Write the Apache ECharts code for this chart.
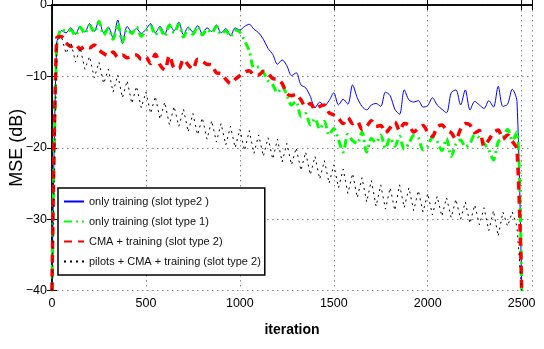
<!DOCTYPE html>
<html>
<head>
<meta charset="utf-8">
<script src="https://cdn.jsdelivr.net/npm/echarts@6/dist/echarts.min.js"></script>
<style>html,body{margin:0;padding:0;background:#fff}#c{width:544px;height:349px}</style>
</head>
<body>
<div id="c"></div>
<script>
var iterations = [0,25,50,75,100,125,150,175,200,225,250,275,300,325,350,375,400,425,450,475,
500,525,550,575,600,625,650,675,700,725,750,775,800,825,850,875,900,925,950,975,
1000,1025,1050,1075,1100,1125,1150,1175,1200,1225,1250,1275,1300,1325,1350,1375,1400,1425,1450,1475,
1500,1525,1550,1575,1600,1625,1650,1675,1700,1725,1750,1775,1800,1825,1850,1875,1900,1925,1950,1975,
2000,2025,2050,2075,2100,2125,2150,2175,2200,2225,2250,2275,2300,2325,2350,2375,2400,2425,2450,2475,2500];

var onlyTrainingType2 = [-40,-5.5,-3.6,-3.9,-3.2,-4.1,-3.0,-3.8,-2.6,-3.7,-2.2,-3.9,-3.1,-4.6,-2.1,-5.4,-3.0,-3.8,-3.3,-4.0,
-3.4,-2.6,-3.9,-3.0,-4.1,-2.7,-3.6,-2.4,-4.2,-3.1,-3.8,-2.9,-4.0,-3.2,-3.7,-2.8,-3.9,-3.3,-4.3,-3.2,
-3.5,-3.0,-2.7,-3.4,-3.9,-4.8,-6.1,-6.9,-8.3,-7.7,-8.5,-9.9,-9.5,-11.2,-11.6,-12.8,-14.4,-13.6,-14.1,-13.4,
-12.3,-14.0,-13.2,-13.9,-11.2,-13.0,-14.2,-14.7,-14.0,-13.8,-14.2,-12.2,-12.7,-14.6,-15.3,-11.9,-13.3,-13.6,-13.4,-14.3,
-14.1,-13.0,-14.0,-14.6,-15.1,-12.3,-11.9,-14.0,-11.9,-14.7,-13.5,-14.0,-14.5,-13.4,-14.3,-11.4,-14.2,-13.9,-11.8,-13.5,-40];

var onlyTrainingType1 = [-40,-6.0,-3.4,-3.7,-3.5,-4.3,-3.1,-4.0,-2.9,-3.8,-2.3,-4.2,-3.3,-4.8,-2.6,-5.2,-3.4,-4.0,-3.1,-4.4,
-3.6,-2.9,-4.2,-3.3,-4.4,-2.8,-3.9,-2.7,-4.5,-3.3,-4.1,-3.0,-4.2,-3.4,-3.9,-3.0,-4.1,-3.6,-4.4,-3.5,
-3.8,-5.0,-6.4,-8.8,-8.7,-9.4,-10.6,-11.2,-12.3,-11.4,-12.6,-14.0,-13.5,-15.6,-15.2,-16.8,-15.9,-17.4,-16.3,-18.2,
-17.3,-18.9,-20.6,-18.1,-19.0,-19.4,-17.8,-20.6,-18.7,-19.3,-18.2,-20.1,-18.6,-19.8,-18.4,-20.2,-19.4,-18.3,-18.6,-20.3,
-19.8,-18.5,-19.1,-20.4,-18.7,-21.2,-19.5,-18.9,-19.9,-19.4,-18.2,-18.6,-19.4,-20.3,-21.7,-19.2,-18.6,-17.4,-19.0,-17.8,-40];

var cmaTraining = [-40,-4.6,-4.4,-5.3,-5.8,-5.5,-6.2,-5.8,-6.0,-5.6,-6.3,-6.8,-7.1,-6.6,-7.3,-7.0,-7.4,-7.1,-7.0,-7.6,
-7.3,-8.2,-6.9,-8.4,-9.1,-7.1,-8.8,-8.9,-7.6,-8.4,-9.0,-7.6,-7.9,-8.3,-8.4,-9.5,-9.6,-10.4,-11.0,-10.4,
-9.9,-9.4,-9.2,-9.8,-9.8,-9.3,-9.6,-10.3,-10.4,-11.0,-12.4,-12.7,-12.5,-13.3,-14.2,-13.8,-14.6,-14.2,-14.0,-15.1,
-15.4,-15.9,-16.6,-15.8,-16.6,-16.3,-17.4,-17.0,-16.2,-17.0,-16.9,-17.9,-17.2,-16.4,-17.6,-16.6,-16.8,-17.8,-17.3,-16.9,
-17.8,-18.4,-17.1,-16.8,-17.5,-17.9,-18.8,-17.4,-16.6,-16.8,-17.9,-17.6,-19.8,-18.9,-17.9,-17.5,-18.8,-18.2,-19.1,-20.2,-40];

var pilotsCmaTraining = [-40,-5.0,-4.4,-6.8,-5.2,-8.0,-6.0,-9.0,-7.2,-10.2,-8.0,-11.0,-9.0,-12.2,-9.8,-13.0,-10.6,-13.8,-11.4,-14.4,
-12.2,-15.2,-12.8,-16.0,-13.6,-16.8,-14.2,-17.0,-14.6,-17.8,-15.2,-18.2,-15.8,-18.8,-16.2,-19.2,-16.6,-19.6,-17.0,-20.0,
-17.4,-20.4,-17.6,-20.8,-18.2,-21.2,-18.6,-21.6,-18.8,-22.0,-19.4,-22.4,-20.0,-23.2,-20.6,-23.8,-21.2,-24.4,-21.8,-25.0,
-22.4,-25.6,-23.0,-26.4,-23.6,-27.0,-24.2,-27.6,-24.6,-28.2,-25.2,-28.6,-25.6,-28.8,-25.2,-28.4,-25.6,-28.8,-26.0,-29.0,
-26.4,-29.4,-26.8,-29.6,-27.0,-29.8,-27.2,-30.0,-27.6,-30.6,-28.0,-30.8,-28.4,-31.6,-28.8,-32.4,-29.0,-31.0,-29.0,-31.0,-40];

var seriesNames = ['only training (slot type2 )','only training (slot type 1)','CMA + training (slot type 2)','pilots + CMA + training (slot type 2)'];
var xTicks = [0,500,1000,1500,2000,2500];
var yTicks = [0,-10,-20,-30,-40];

function pairs(vals){ return iterations.map(function(x,i){ return [x, vals[i]]; }); }

var FONT = "'Liberation Sans',Arial,sans-serif";
var chart = echarts.init(document.getElementById('c'), null, {renderer:'canvas'});
var gridColor = '#8a8a8a';
chart.setOption({
  animation:false,
  backgroundColor:'#fff',
  grid:{left:52,right:12,top:5,bottom:58.5,show:false,containLabel:false,outerBoundsMode:'none'},
  legend:{
    orient:'vertical', left:58, top:188,
    backgroundColor:'#fff', borderColor:'#000', borderWidth:1.5, borderRadius:0,
    padding:[8,4,8,5], itemGap:9, itemWidth:20, itemHeight:13,
    selectedMode:false,
    itemStyle:{opacity:0},
    textStyle:{fontFamily:FONT,fontSize:11,color:'#111'},
    data:seriesNames
  },
  xAxis:[{
    type:'value', min:0, max:2555, interval:500, position:'bottom',
    name:'iteration', nameLocation:'middle', nameGap:33,
    nameTextStyle:{fontFamily:FONT,fontSize:14,fontWeight:'bold',color:'#000'},
    axisLine:{show:true,lineStyle:{color:'#000',width:1.5}},
    axisTick:{show:true,inside:true,length:5,lineStyle:{color:'#000',width:1}},
    axisLabel:{margin:7,fontFamily:FONT,fontSize:12.5,color:'#000',
      formatter:function(v){ return xTicks.indexOf(v)>=0 ? String(v) : ''; }},
    splitLine:{show:true,lineStyle:{color:gridColor,width:1,type:[1.5,3.5]}}
  },{
    type:'value', min:0, max:2555, interval:500, position:'top',
    axisLine:{show:true,lineStyle:{color:'#000',width:1.5}},
    axisTick:{show:true,inside:true,length:5,lineStyle:{color:'#000',width:1}},
    axisLabel:{show:false}, splitLine:{show:false}
  }],
  yAxis:[{
    type:'value', min:-40, max:0, interval:10, position:'left',
    name:'MSE (dB)', nameLocation:'middle', nameGap:26, nameRotate:90, nameMoveOverlap:false,
    nameTextStyle:{fontFamily:FONT,fontSize:18,color:'#000'},
    axisLine:{show:true,lineStyle:{color:'#000',width:1.5}},
    axisTick:{show:true,inside:true,length:5,lineStyle:{color:'#000',width:1}},
    axisLabel:{margin:5,fontFamily:FONT,fontSize:12.5,color:'#000',
      formatter:function(v){ return yTicks.indexOf(v)>=0 ? (v<0 ? '\u2212'+Math.abs(v) : String(v)) : ''; }},
    splitLine:{show:true,lineStyle:{color:gridColor,width:1,type:[1.5,3.5]}}
  },{
    type:'value', min:-40, max:0, interval:10, position:'right',
    axisLine:{show:true,lineStyle:{color:'#000',width:1.5}},
    axisTick:{show:true,inside:true,length:5,lineStyle:{color:'#000',width:1}},
    axisLabel:{show:false}, splitLine:{show:false}
  }],
  series:[
    {name:seriesNames[0],type:'line',data:pairs(onlyTrainingType2),symbol:'none',smooth:0.3,z:2,
     lineStyle:{color:'#0000ff',width:1,type:'solid'},itemStyle:{color:'#0000ff'}},
    {name:seriesNames[1],type:'line',data:pairs(onlyTrainingType1),symbol:'none',smooth:0.3,z:3,
     lineStyle:{color:'#00ff00',width:3,type:[8,4,2,4]},itemStyle:{color:'#00ff00'}},
    {name:seriesNames[2],type:'line',data:pairs(cmaTraining),symbol:'none',smooth:0.3,z:4,
     lineStyle:{color:'#ff0000',width:3.5,type:[8,6]},itemStyle:{color:'#ff0000'}},
    {name:seriesNames[3],type:'line',data:pairs(pilotsCmaTraining),symbol:'none',smooth:false,z:5,
     lineStyle:{color:'#000000',width:1,type:[2,4]},itemStyle:{color:'#000000'}}
  ]
});
</script>
</body>
</html>
